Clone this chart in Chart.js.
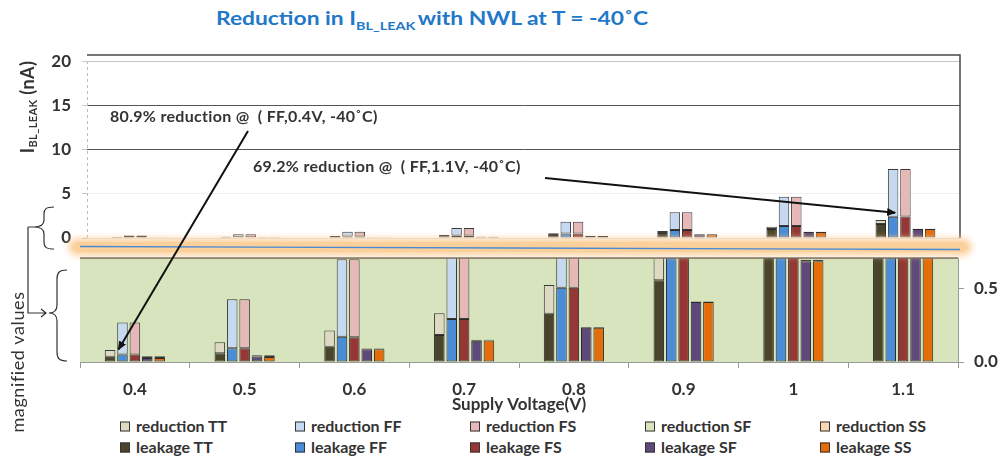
<!DOCTYPE html>
<html><head><meta charset="utf-8">
<script src="https://cdn.jsdelivr.net/npm/chart.js@4"></script>
<style>
body{margin:0;background:#fff;}
#wrap{position:relative;width:1006px;height:461px;overflow:hidden;font-family:Lato,'Open Sans',sans-serif;color:#333;}
canvas{position:absolute;left:0;}
.abs{position:absolute;white-space:nowrap;}
#title{left:216px;top:6px;font-size:19px;font-weight:bold;color:#1f78c8;transform:scaleX(1.2);transform-origin:0 0;}
#title sub{font-size:12px;vertical-align:-5px;margin-right:2px;}
.rot{position:absolute;white-space:nowrap;transform:translate(-50%,-50%) rotate(-90deg);}
#ytitle{left:27px;top:107px;font-size:18px;font-weight:bold;color:#333;letter-spacing:0.4px;}
#ytitle sub{font-size:11px;vertical-align:-3px;}
#mag{left:17px;top:362px;font-size:18px;color:#333;letter-spacing:0.6px;}
.note{font-size:16px;font-weight:bold;color:#333;letter-spacing:0.3px;}
#band{left:72px;top:242px;width:896px;height:10px;background:rgba(252,206,150,0.95);box-shadow:0 0 6px 4px rgba(252,206,150,0.85);border-radius:6px;}
.lg{position:absolute;white-space:nowrap;font-size:16px;font-weight:bold;color:#333;transform:translateY(-50%);}
.lg i{display:inline-block;width:8px;height:8px;border:1px solid #333;margin-right:6px;vertical-align:0px;}
svg{position:absolute;left:0;top:0;}
</style></head>
<body>
<div id="wrap">
  <div id="title" class="abs">Reduction in I<sub>BL_LEAK</sub>with NWL at T = -40˚C</div>
  <canvas id="top" width="1006" height="225" style="top:34px"></canvas>
  <canvas id="bot" width="1006" height="177" style="top:238px"></canvas>
  <div id="band" class="abs"></div>
  <div id="ytitle" class="rot">I<sub>BL_LEAK</sub> (nA)</div>
  <div id="mag" class="rot">magnified values</div>
  <div class="abs note" style="left:110px;top:106px">80.9% reduction @&nbsp; ( FF,0.4V, -40˚C)</div>
  <div class="abs note" style="left:253px;top:156px">69.2% reduction @&nbsp; ( FF,1.1V, -40˚C)</div>
  <div id="legend"></div>
  <svg width="1006" height="461">
    <defs>
      <marker id="ah" markerWidth="9" markerHeight="8" refX="8" refY="4" orient="auto" markerUnits="userSpaceOnUse">
        <path d="M0,0 L9,4 L0,8 z" fill="#111"/>
      </marker>
    </defs>
    <line x1="80" y1="246.5" x2="960" y2="249.5" stroke="#4a8ad4" stroke-width="1.4"/>
    <path d="M54,207 C46,207 44,209 44,214 L44,220 C44,225 41,227 34,227 C41,227 44,229 44,234 L44,242 C44,247 46,249 54,249" fill="none" stroke="#333" stroke-width="1.2"/>
    <path d="M28,227 L34,227 M28,227 L28,313 L46,313 M41,309 L46,313 L41,317" fill="none" stroke="#333" stroke-width="1.2"/>
    <path d="M67,270 C59,270 57,273 57,279 L57,305 C57,310 55,313 49,313 C55,313 57,316 57,321 L57,352 C57,358 59,361 67,361" fill="none" stroke="#333" stroke-width="1.2"/>
    <line id="arr1" x1="248" y1="131" x2="119" y2="349" stroke="#111" stroke-width="2" marker-end="url(#ah)"/>
    <line id="arr2" x1="545" y1="178" x2="896" y2="212" stroke="#111" stroke-width="2" marker-end="url(#ah)"/>
  </svg>
</div>
<script>
// ---- data ----
const voltages = ['0.4','0.5','0.6','0.7','0.8','0.9','1','1.1'];
const corners = ['TT','FF','FS','SF','SS'];
const leakageTT   = [0.036, 0.060, 0.105, 0.185, 0.330, 0.560, 1.020, 1.580];
const reductionTT = [0.046, 0.075, 0.110, 0.148, 0.197, 0.240, 0.260, 0.450];
const leakageFF   = [0.052, 0.094, 0.173, 0.295, 0.509, 0.900, 1.360, 2.400];
const reductionFF = [0.218, 0.336, 0.530, 0.825, 1.340, 2.000, 3.310, 5.400];
const leakageFS   = [0.052, 0.094, 0.170, 0.295, 0.509, 0.900, 1.360, 2.420];
const reductionFS = [0.218, 0.336, 0.533, 0.825, 1.340, 2.000, 3.310, 5.380];
const leakageSF   = [0.027, 0.038, 0.088, 0.145, 0.235, 0.410, 0.690, 1.020];
const reductionSF = [0.013, 0.008, 0.005, 0.008, 0.004, 0.004, 0.010, 0.020];
const leakageSS   = [0.027, 0.035, 0.088, 0.148, 0.235, 0.410, 0.690, 1.020];
const reductionSS = [0.013, 0.012, 0.004, 0.005, 0.004, 0.004, 0.010, 0.020];
const topTicks = [0, 5, 10, 15, 20];
const bottomTicks = [0, 0.5];
const topMax = 20.68;
const bottomMax = 0.712;

// ---- styles ----
const leakSeries = {TT: leakageTT, FF: leakageFF, FS: leakageFS, SF: leakageSF, SS: leakageSS};
const redSeries  = {TT: reductionTT, FF: reductionFF, FS: reductionFS, SF: reductionSF, SS: reductionSS};
const leakColor = {TT:'#4a452a', FF:'#4a8cd6', FS:'#953735', SF:'#5f497a', SS:'#e46c0a'};
const redColor  = {TT:'#ddd9c3', FF:'#c6d9f1', FS:'#e6b9b8', SF:'#d7e4bd', SS:'#fcd5b5'};
Chart.defaults.font.family = 'Lato';
Chart.defaults.color = '#333';
const tickFont = {size:17, weight:'bold', lineHeight:'20px'};

function makeDatasets(){
  const ds = [];
  corners.forEach(c => {
    ds.push({label:'leakage '+c, data:leakSeries[c], stack:c, backgroundColor:leakColor[c],
      borderColor:'#2a2a2a', borderWidth:1, borderSkipped:false, categoryPercentage:0.565, barPercentage:0.85});
    ds.push({label:'reduction '+c, data:redSeries[c], stack:c, backgroundColor:redColor[c],
      borderColor:'#3a3a3a', borderWidth:1, borderSkipped:false, categoryPercentage:0.565, barPercentage:0.85});
  });
  return ds;
}

const topFrame = {
  id:'topFrame',
  beforeDatasetsDraw(chart){
    const {ctx, chartArea:a} = chart;
    ctx.save();
    ctx.strokeStyle = '#bdbdbd'; ctx.lineWidth = 1; ctx.setLineDash([3,3]);
    ctx.beginPath(); ctx.moveTo(a.left+0.5, chart.scales.y.getPixelForValue(topTicks[topTicks.length-1])); ctx.lineTo(a.left+0.5, a.bottom); ctx.stroke();
    ctx.restore();
  },
  afterDatasetsDraw(chart){
    const {ctx, chartArea:a} = chart;
    ctx.save();
    ctx.strokeStyle = '#4a4a4a'; ctx.lineWidth = 1.5;
    ctx.beginPath();
    ctx.moveTo(a.left, a.top); ctx.lineTo(a.right, a.top); ctx.lineTo(a.right, a.bottom);
    ctx.stroke();
    ctx.restore();
  }
};

const topChart = new Chart(document.getElementById('top'), {
  type:'bar',
  data:{labels:voltages, datasets:makeDatasets()},
  plugins:[topFrame],
  options:{
    responsive:false, animation:false,
    layout:{padding:{top:0, bottom:0, left:0, right:46}},
    plugins:{legend:{display:false}, tooltip:{enabled:false}},
    scales:{
      x:{stacked:true, display:false},
      y:{stacked:true, min:0, max:topMax, position:'left',
        afterBuildTicks(s){ s.ticks = topTicks.map(v => ({value:v})); },
        afterFit(s){ s.width = 87; },
        border:{display:false},
        grid:{drawTicks:true, tickLength:5, tickColor:'#c8c8c8',
          color:(c)=>{ const v = c.tick ? c.tick.value : null;
            if (v===20) return '#c4c4c4'; if (v===5) return '#f0f0f0'; if (v===0) return '#e4e4e4'; return '#555'; }},
        ticks:{padding:11, color:'#333', font:tickFont}
      }
    }
  }
});

const greenPanel = {
  id:'greenPanel',
  beforeDraw(chart){
    const {ctx, chartArea:a} = chart;
    ctx.save();
    ctx.fillStyle = '#d7e4bd';
    ctx.fillRect(a.left, a.top, a.right-a.left, a.bottom-a.top);
    ctx.restore();
  },
  afterDatasetsDraw(chart){
    const {ctx, chartArea:a} = chart;
    ctx.save();
    ctx.strokeStyle = '#555'; ctx.lineWidth = 1.5;
    ctx.beginPath(); ctx.moveTo(a.left, a.top); ctx.lineTo(a.right, a.top); ctx.stroke();
    ctx.restore();
  }
};

const botChart = new Chart(document.getElementById('bot'), {
  type:'bar',
  data:{labels:voltages, datasets:makeDatasets()},
  plugins:[greenPanel],
  options:{
    responsive:false, animation:false,
    layout:{padding:{top:0, bottom:0, left:80, right:0}},
    plugins:{legend:{display:false}, tooltip:{enabled:false}},
    scales:{
      x:{stacked:true, position:'bottom',
        afterFit(s){ s.height = 53; },
        border:{display:true, color:'#9a9a9a'},
        grid:{drawOnChartArea:false, drawTicks:true, tickLength:6, tickColor:'#9a9a9a', offset:true},
        ticks:{padding:12, color:'#333', font:tickFont},
        title:{display:true, text:'Supply Voltage(V)', color:'#333', font:{size:17, weight:'bold'}, padding:{top:0, bottom:0}}
      },
      y:{stacked:true, min:0, max:bottomMax, position:'right',
        afterBuildTicks(s){ s.ticks = bottomTicks.map(v => ({value:v})); },
        afterFit(s){ s.width = 48; },
        border:{display:true, color:'#9a9a9a'},
        grid:{drawOnChartArea:false, drawTicks:true, tickLength:6, tickColor:'#9a9a9a'},
        ticks:{padding:10, color:'#333', font:tickFont, callback:(v)=>Number(v).toFixed(1)}
      }
    }
  }
});

// legend built from the datasets
(function(){
  const lg = document.getElementById('legend');
  const cols = [120, 295, 470, 645, 820];
  const rows = [{kind:'reduction', y:425, col:redColor}, {kind:'leakage', y:446, col:leakColor}];
  rows.forEach(r => corners.forEach((c,i) => {
    const d = document.createElement('div');
    d.className = 'lg';
    d.style.left = cols[i]+'px'; d.style.top = r.y+'px';
    d.innerHTML = '<i style="background:'+r.col[c]+'"></i>'+r.kind+' '+c;
    lg.appendChild(d);
  }));
})();

// arrows pointing at the FF bars
(function(){
  const ffLeakIdx = corners.indexOf('FF')*2;
  const topC = document.getElementById('top'), botC = document.getElementById('bot');
  const b1 = botChart.getDatasetMeta(ffLeakIdx).data[voltages.indexOf('0.4')];
  const a1 = document.getElementById('arr1');
  a1.setAttribute('x2', b1.x - 4); a1.setAttribute('y2', botC.offsetTop + b1.y - 5);
  const b2 = topChart.getDatasetMeta(ffLeakIdx).data[voltages.indexOf('1.1')];
  const a2 = document.getElementById('arr2');
  a2.setAttribute('x2', b2.x + 2); a2.setAttribute('y2', topC.offsetTop + b2.y - 4);
})();
</script>
</body></html>
